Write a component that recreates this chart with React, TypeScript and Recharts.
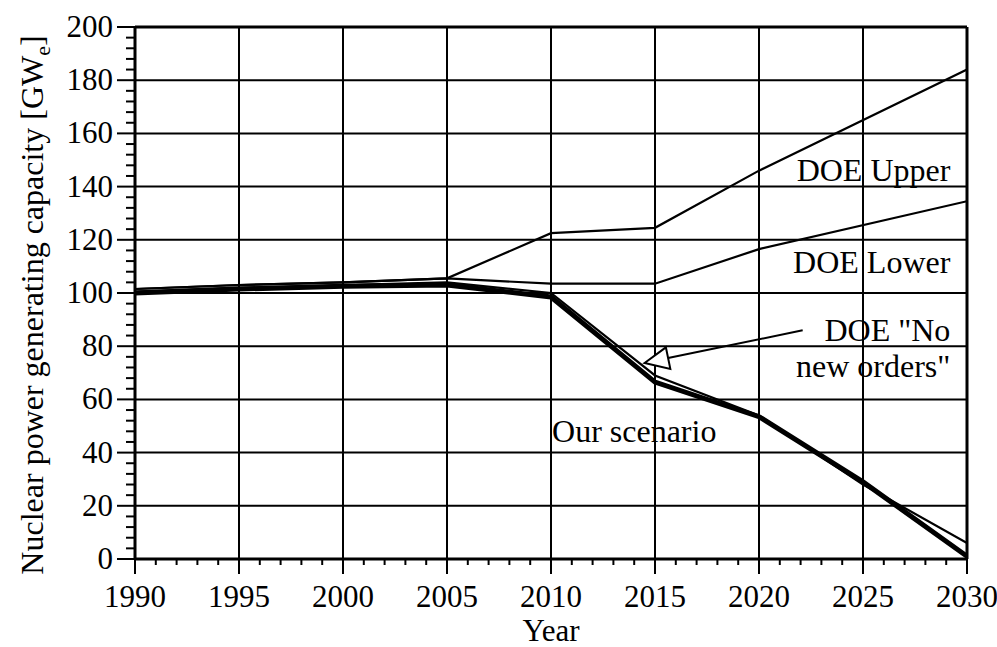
import React from 'react';
import {
  LineChart, Line, XAxis, YAxis, CartesianGrid, ReferenceLine, ReferenceDot, Label,
} from 'recharts';

const FONT = '"Liberation Serif", "Times New Roman", serif';

// ---- data ----
const upperYears = [1990, 1995, 2000, 2005, 2010, 2015, 2020, 2030];
const upperValues = [101.5, 103, 104, 105.5, 122.5, 124.5, 146, 184];

const lowerYears = [1990, 1995, 2000, 2005, 2010, 2015, 2020, 2030];
const lowerValues = [101.5, 103, 104, 105.5, 103.5, 103.5, 116.5, 134.5];

const noNewYears = [1990, 1995, 2000, 2005, 2010, 2015, 2020, 2025, 2030];
const noNewValues = [100.5, 102, 103, 104, 100, 69, 54, 28, 6];

const oursYears = [1990, 1995, 2000, 2005, 2010, 2015, 2020, 2025, 2030];
const oursValues = [100, 101.5, 102.5, 103, 98.5, 66.5, 53.5, 29, 1];

const xMajorTicks = [1990, 1995, 2000, 2005, 2010, 2015, 2020, 2025, 2030];
const xAllTicks = Array.from({ length: 41 }, (_, i) => 1990 + i);
const yMajorTicks = [0, 20, 40, 60, 80, 100, 120, 140, 160, 180, 200];
const yAllTicks = Array.from({ length: 51 }, (_, i) => i * 4);

const annotations = [
  { text: 'DOE Upper', x: 2029.2, y: 142, anchor: 'end' },
  { text: 'DOE Lower', x: 2029.2, y: 107.5, anchor: 'end' },
  { text: 'DOE "No', x: 2029.2, y: 82, anchor: 'end' },
  { text: 'new orders"', x: 2029.2, y: 68.4, anchor: 'end' },
  { text: 'Our scenario', x: 2010.05, y: 44, anchor: 'start' },
];
const arrowTail = { x: 2022.1, y: 86 };
const arrowTip = { x: 2014.5, y: 73.7 };

const toPoints = (xs: number[], ys: number[]) => xs.map((x, i) => ({ year: x, v: ys[i] }));

const XTick = (props: any) => {
  const { x, y, payload } = props;
  const major = payload.value % 5 === 0;
  return (
    <g>
      <line x1={x} x2={x} y1={y} y2={y + (major ? 15 : 6)} stroke="#000" strokeWidth={2} />
      {major && (
        <text x={x} y={y + 48} textAnchor="middle" fontSize={31} fontFamily={FONT} fill="#000">
          {payload.value}
        </text>
      )}
    </g>
  );
};

const YTick = (props: any) => {
  const { x, y, payload } = props;
  const major = payload.value % 20 === 0;
  return (
    <g>
      <line x1={x - (major ? 18 : 9)} x2={x} y1={y} y2={y} stroke="#000" strokeWidth={2} />
      {major && (
        <text x={x - 22} y={y + 10} textAnchor="end" fontSize={31} fontFamily={FONT} fill="#000">
          {payload.value}
        </text>
      )}
    </g>
  );
};

const ArrowShape = (props: any) => {
  const { x1, y1, x2, y2 } = props;
  const dx = x2 - x1;
  const dy = y2 - y1;
  const len = Math.sqrt(dx * dx + dy * dy) || 1;
  const ux = dx / len;
  const uy = dy / len;
  const hl = 24;
  const hw = 11;
  const bx = x2 - ux * hl;
  const by = y2 - uy * hl;
  const px = -uy;
  const py = ux;
  const pts = `${x2},${y2} ${bx + px * hw},${by + py * hw} ${bx - px * hw},${by - py * hw}`;
  return (
    <g>
      <line x1={x1} y1={y1} x2={bx} y2={by} stroke="#000" strokeWidth={2} />
      <polygon points={pts} fill="#fff" stroke="#000" strokeWidth={2} />
    </g>
  );
};

const makeTextShape = (text: string, anchor: string) => (props: any) => (
  <text x={props.cx} y={props.cy} textAnchor={anchor} fontSize={32} fontFamily={FONT} fill="#000">
    {text}
  </text>
);

const YLabel = (props: any) => {
  const vb = props.viewBox || { x: 0, y: 27, width: 135, height: 532 };
  const cx = 43;
  const cy = vb.y + vb.height / 2 + 12;
  return (
    <text
      x={cx}
      y={cy}
      transform={`rotate(-90, ${cx}, ${cy})`}
      textAnchor="middle"
      fontSize={32}
      fontFamily={FONT}
      fill="#000"
    >
      Nuclear power generating capacity [GW
      <tspan fontSize={22} dy={7}>e</tspan>
      <tspan dy={-7}>]</tspan>
    </text>
  );
};

const XLabel = (props: any) => {
  const vb = props.viewBox || { x: 135, y: 559, width: 832, height: 88 };
  return (
    <text x={vb.x + vb.width / 2} y={vb.y + 82} textAnchor="middle" fontSize={31} fontFamily={FONT} fill="#000">
      Year
    </text>
  );
};

export default function App() {
  return (
    <div style={{ position: 'absolute', left: 0, top: 0, width: 997, height: 647, background: '#fff' }}>
      <LineChart width={997} height={647} margin={{ top: 27, right: 30, left: 0, bottom: 0 }}>
        <CartesianGrid
          stroke="#000"
          strokeWidth={2}
          horizontalValues={yMajorTicks.slice(1, -1)}
          verticalValues={xMajorTicks.slice(1, -1)}
        />
        <XAxis
          dataKey="year"
          type="number"
          domain={[1990, 2030]}
          ticks={xAllTicks}
          interval={0}
          tickSize={0}
          tickMargin={0}
          tickLine={false}
          tick={<XTick />}
          height={88}
          axisLine={{ stroke: '#000', strokeWidth: 3 }}
          allowDataOverflow
        >
          <Label content={<XLabel />} />
        </XAxis>
        <YAxis
          type="number"
          domain={[0, 200]}
          ticks={yAllTicks}
          interval={0}
          tickSize={0}
          tickMargin={0}
          tickLine={false}
          tick={<YTick />}
          width={135}
          axisLine={{ stroke: '#000', strokeWidth: 3 }}
          allowDataOverflow
        >
          <Label content={<YLabel />} />
        </YAxis>
        <ReferenceLine y={200} stroke="#000" strokeWidth={3} />
        <ReferenceLine x={2030} stroke="#000" strokeWidth={3} />
        <Line data={toPoints(upperYears, upperValues)} dataKey="v" stroke="#000" strokeWidth={2.2} dot={false} isAnimationActive={false} />
        <Line data={toPoints(lowerYears, lowerValues)} dataKey="v" stroke="#000" strokeWidth={2.2} dot={false} isAnimationActive={false} />
        <Line data={toPoints(noNewYears, noNewValues)} dataKey="v" stroke="#000" strokeWidth={2.2} dot={false} isAnimationActive={false} />
        <Line data={toPoints(oursYears, oursValues)} dataKey="v" stroke="#000" strokeWidth={5} dot={false} isAnimationActive={false} />
        <ReferenceLine
          segment={[arrowTail, arrowTip]}
          stroke="#000"
          shape={<ArrowShape />}
        />
        {annotations.map((a) => (
          <ReferenceDot key={a.text} x={a.x} y={a.y} r={0} shape={makeTextShape(a.text, a.anchor)} />
        ))}
      </LineChart>
    </div>
  );
}
